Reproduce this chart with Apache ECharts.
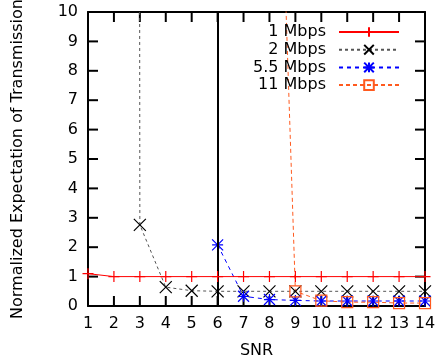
<!DOCTYPE html>
<html><head><meta charset="utf-8">
<script src="https://cdn.jsdelivr.net/npm/echarts@6/dist/echarts.min.js"></script>
<style>html,body{margin:0;padding:0;background:#fff}#c{width:438px;height:362px}</style>
</head><body><div id="c"></div>
<script>
const snr = [1,2,3,4,5,6,7,8,9,10,11,12,13,14];
const xTicks = ['1','2','3','4','5','6','7','8','9','10','11','12','13','14'];
const yTicks = [0,1,2,3,4,5,6,7,8,9,10];
const names = ['1 Mbps','2 Mbps','5.5 Mbps','11 Mbps'];
// values per SNR (null = no point)
const v1 = [1.1,1.0,1.0,1.0,1.0,1.0,1.0,1.0,1.0,1.0,1.0,1.0,1.0,1.0];
const v2 = [null,1000,2.76,0.64,0.52,0.5,0.5,0.5,0.5,0.5,0.5,0.5,0.5,0.5];
const v55 = [null,null,null,null,null,2.08,0.33,0.22,0.19,0.17,0.17,0.17,0.17,0.17];
const v11 = [null,null,null,null,null,null,null,27,0.5,0.18,0.13,0.13,0.1,0.1];
const vline = 6;

const FONT = 'DejaVu Sans';
const X_MIN = 1, X_MAX = 14, Y_MIN = 0, Y_MAX = 10;
const pair = arr => snr.map((x,i)=>[x,arr[i]]).filter(p=>p[1]!==null);
const SYM_PLUS = 'path://M0,5L10,5M5,0L5,10';
const SYM_X = 'path://M0,0L10,10M10,0L0,10';
const SYM_STAR = 'path://M0,0L10,10M10,0L0,10M5,0L5,10M0,5L10,5';
const SYM_SQ = 'path://M0,0L10,0L10,10L0,10Z';

function series(name, data, lineColor, dash, symbol, markColor, size, extra){
  return Object.assign({
    name, type:'line', data: pair(data), symbol, symbolSize: size,
    showAllSymbol:true, animation:false, z:3,
    lineStyle:{color:lineColor, width:1, type:dash},
    itemStyle:{color:'rgba(0,0,0,0)', borderColor:markColor, borderWidth:1.2},
    clip:true
  }, extra||{});
}
function axis(extra){
  return Object.assign({
    type:'value', min:X_MIN, max:X_MAX, interval:1,
    axisLine:{show:true, onZero:false, lineStyle:{color:'#000', width:2}},
    axisTick:{show:false},
    splitLine:{show:false}
  }, extra);
}

// inward tick marks on all four sides (gnuplot style), placed through the axis scales
const tickData = xTicks.map(t=>[0, Number(t)]).concat(yTicks.map(t=>[1, t]));
const TL = 10;
function renderTick(params, api){
  const kind = api.value(0), v = api.value(1);
  const st = {stroke:'#000', lineWidth:2};
  if (kind === 0){
    const a = api.coord([v, Y_MIN]), b = api.coord([v, Y_MAX]);
    return {type:'group', children:[
      {type:'line', shape:{x1:a[0], y1:a[1], x2:a[0], y2:a[1]-TL}, style:st},
      {type:'line', shape:{x1:b[0], y1:b[1], x2:b[0], y2:b[1]+TL}, style:st}]};
  }
  const a = api.coord([X_MIN, v]), b = api.coord([X_MAX, v]);
  return {type:'group', children:[
    {type:'line', shape:{x1:a[0], y1:a[1], x2:a[0]+TL, y2:a[1]}, style:st},
    {type:'line', shape:{x1:b[0], y1:b[1], x2:b[0]-TL, y2:b[1]}, style:st}]};
}

const chart = echarts.init(document.getElementById('c'));
chart.setOption({
  animation:false,
  backgroundColor:'#fff',
  grid:{left:88, right:13, top:12, bottom:56, outerBoundsMode:'none'},
  xAxis:[
    axis({position:'bottom', name:'SNR', nameLocation:'middle', nameGap:37,
      nameTextStyle:{fontFamily:FONT, fontSize:16, color:'#000'},
      axisLabel:{fontFamily:FONT, fontSize:16, color:'#000', margin:10, formatter: v => xTicks[v-1]}}),
    axis({position:'top', axisLabel:{show:false}})
  ],
  yAxis:[
    axis({min:Y_MIN, max:Y_MAX, interval:1, position:'left',
      name:'Normalized Expectation of Transmission', nameLocation:'middle', nameGap:62,
      nameTextStyle:{fontFamily:FONT, fontSize:16, color:'#000'},
      axisLabel:{fontFamily:FONT, fontSize:16, color:'#000', margin:10, formatter: v => String(yTicks[v])}}),
    axis({min:Y_MIN, max:Y_MAX, interval:1, position:'right', axisLabel:{show:false}})
  ],
  legend: names.map((n,i)=>({
    data:[n], right:33, top:19+i*17.7, align:'right', itemWidth:60, itemHeight:12,
    itemGap:0, selectedMode:false,
    textStyle:{fontFamily:FONT, fontSize:16, color:'#000', padding:[0,8,0,0]}
  })),
  series:[
    {type:'custom', name:'ticks', data:tickData, renderItem:renderTick, silent:true, clip:false, z:1, animation:false},
    series(names[0], v1, '#ff0000', 'solid', SYM_PLUS, '#ff0000', 11, {clip:false, z:5,
      markLine:{silent:true, symbol:'none', label:{show:false}, animation:false,
        lineStyle:{color:'#000', width:2, type:'solid'}, data:[{xAxis:vline}]}}),
    series(names[1], v2, '#555555', [3,3], SYM_X, '#000000', 12),
    series(names[2], v55, '#0000ff', [4,4], SYM_STAR, '#0000ff', 11),
    series(names[3], v11, '#ff5a1f', [4,3], SYM_SQ, '#ff5a1f', 11)
  ]
});
</script></body></html>
